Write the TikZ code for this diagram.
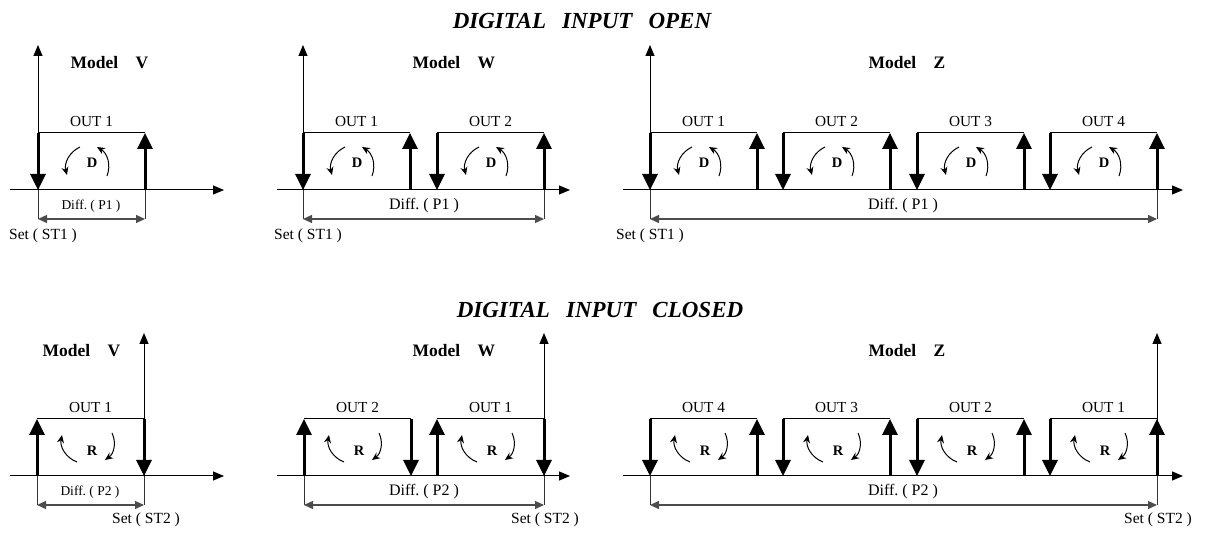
\documentclass[tikz,border=0pt]{standalone}
\usepackage{fontspec}
\setmainfont{Liberation Serif}
\usetikzlibrary{arrows.meta,positioning}
\tikzset{
  axis/.style={line width=1pt, -{Triangle[length=11pt,width=9pt]}},
  edge/.style={line width=1pt},
  relay/.style={line width=3pt, -{Triangle[length=16pt,width=15pt]}},
  ext/.style={line width=0.9pt, draw=black!80},
  dim/.style={line width=1.4pt, draw=black!70,
    {Triangle[length=9pt,width=8pt]}-{Triangle[length=9pt,width=8pt]}},
  turn/.style={line width=1pt, -{Stealth[length=8pt,width=7pt]}},
  title/.style={font=\fontsize{23}{26}\selectfont\bfseries\itshape},
  model/.style={font=\fontsize{17.5}{20}\selectfont\bfseries, anchor=west},
  outlab/.style={font=\fontsize{15.3}{18}\selectfont},
  letter/.style={font=\fontsize{14.5}{16}\selectfont\bfseries},
  difflab/.style={font=\fontsize{16}{18}\selectfont},
  difflab small/.style={font=\fontsize{13.5}{16}\selectfont},
  setlab/.style={font=\fontsize{15.5}{18}\selectfont}
}
\tikzset{
  box down up/.pic={
    \draw[edge] (0,57) -- (107,57);
    \draw[relay] (0,57) -- (0,0);
    \draw[relay] (107,0) -- (107,57);
  },
  box up down/.pic={
    \draw[edge] (0,57) -- (107,57);
    \draw[relay] (0,0) -- (0,57);
    \draw[relay] (107,57) -- (107,0);
  },
  turn ccw/.pic={
    \draw[turn] (42,43) to[bend right=40] (29,15);
    \draw[turn] (69,14) to[bend right=40] (59,43);
    \node[letter] (-d) at (54,27) {D};
  },
  turn cw/.pic={
    \draw[turn] (40,14) to[bend left=40] (25,41);
    \draw[turn] (75,43) to[bend left=40] (68,16);
    \node[letter] (-r) at (55,25) {R};
  }
}

\begin{document}
\begin{tikzpicture}[x=1pt,y=1pt]
  \useasboundingbox (0,0) rectangle (1205,533);

  \node[title] (open) at (582,512) {DIGITAL\hspace{0.7em}INPUT\hspace{0.7em}OPEN};
  \node[title] (closed) at (600,223) {DIGITAL\hspace{0.7em}INPUT\hspace{0.7em}CLOSED};

  % digital input open
  \foreach \ox/\xa/\xb/\m/\mx in {38/10/224/V/67, 303/277/570/W/409, 650/623/1183/Z/865} {
    \coordinate (o\m) at (\ox,343);
    \draw[axis] (\xa,343) -- (\xb,343);
    \draw[axis] (o\m) -- ++(0,145);
    \node[model] (mo\m) at (\mx,470) {Model\quad \m};
  }
  \foreach \x/\n in {38/1, 303/1, 437/2, 650/1, 783/2, 917/3, 1050/4} {
    \pic (po\x) at (\x,343) {box down up};
    \pic (to\x) at (\x,343) {turn ccw};
    \node[outlab] (oo\x) at (\x+53.5,411.5) {OUT \n};
  }
  \foreach \m/\xa/\xb in {V/38/145, W/303/544, Z/650/1157} {
    \coordinate (dlo\m) at (\xa,314);
    \coordinate (dro\m) at (\xb,314);
    \draw[ext] (\xa,343) -- (dlo\m);
    \draw[ext] (\xb,343) -- (dro\m);
    \draw[dim] (dlo\m) -- (dro\m);
  }
  \node[difflab small] (dfoV) at (91,327) {Diff.\ ( P1 )};
  \node[difflab] (dfoW) at (424,327) {Diff.\ ( P1 )};
  \node[difflab] (dfoZ) at (903,327) {Diff.\ ( P1 )};
  \node[setlab] (stoV) at (43,297) {Set ( ST1 )};
  \node[setlab] (stoW) at (308,297) {Set ( ST1 )};
  \node[setlab] (stoZ) at (650,297) {Set ( ST1 )};

  % digital input closed
  \foreach \ox/\xa/\xb/\m/\mx in {144/10/224/V/39, 544/277/570/W/409, 1157/623/1183/Z/865} {
    \coordinate (c\m) at (\ox,57);
    \draw[axis] (\xa,57) -- (\xb,57);
    \draw[axis] (c\m) -- ++(0,143);
    \node[model] (mc\m) at (\mx,182) {Model\quad \m};
  }
  \foreach \x/\n in {37/1, 304/2, 437/1} {
    \pic (pc\x) at (\x,57) {box up down};
    \pic (tc\x) at (\x,57) {turn cw};
    \node[outlab] (oc\x) at (\x+53.5,125) {OUT \n};
  }
  \foreach \x/\n in {650/4, 783/3, 917/2, 1050/1} {
    \pic (pc\x) at (\x,57) {box down up};
    \pic (tc\x) at (\x,57) {turn cw};
    \node[outlab] (oc\x) at (\x+53.5,125) {OUT \n};
  }
  \foreach \m/\xa/\xb in {V/37/144, W/304/544, Z/650/1157} {
    \coordinate (dlc\m) at (\xa,28);
    \coordinate (drc\m) at (\xb,28);
    \draw[ext] (\xa,57) -- (dlc\m);
    \draw[ext] (\xb,57) -- (drc\m);
    \draw[dim] (dlc\m) -- (drc\m);
  }
  \node[difflab small] (dfcV) at (90,41) {Diff.\ ( P2 )};
  \node[difflab] (dfcW) at (424,41) {Diff.\ ( P2 )};
  \node[difflab] (dfcZ) at (903,41) {Diff.\ ( P2 )};
  \node[setlab] (stcV) at (146,13) {Set ( ST2 )};
  \node[setlab] (stcW) at (545,13) {Set ( ST2 )};
  \node[setlab] (stcZ) at (1158,13) {Set ( ST2 )};
\end{tikzpicture}
\end{document}
